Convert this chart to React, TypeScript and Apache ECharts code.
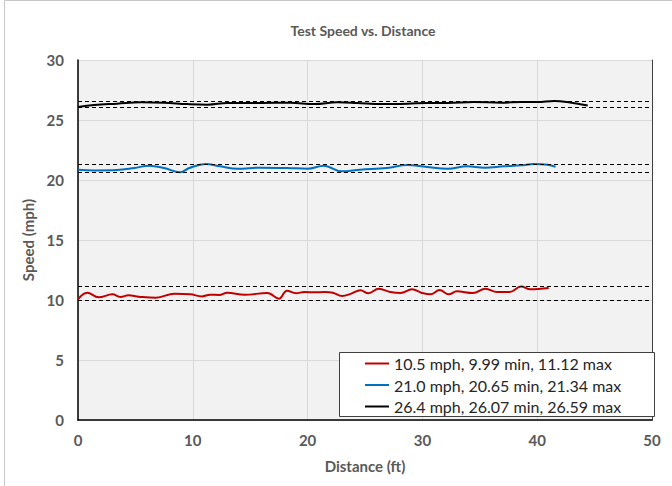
import React, { useEffect, useRef } from "react";
import * as echarts from "echarts";

const xTicks = [0, 10, 20, 30, 40, 50];
const yTicks = [0, 5, 10, 15, 20, 25, 30];

const seriesNames = [
  "10.5 mph, 9.99 min, 11.12 max",
  "21.0 mph, 20.65 min, 21.34 max",
  "26.4 mph, 26.07 min, 26.59 max",
];
const seriesColors = ["#c00000", "#0070c0", "#000000"];
const seriesMin = [9.99, 20.65, 26.07];
const seriesMax = [11.12, 21.34, 26.59];

const redDist = [0, 0.8, 1.8, 3.0, 3.7, 4.4, 5.3, 6.8, 8.4, 9.8, 10.8, 11.5, 12.3, 13.0, 14.5, 16.5, 17.5, 18.2, 19.0, 19.7, 20.6, 21.5, 22.2, 23.0, 23.8, 24.6, 25.3, 26.2, 27.2, 28.1, 29.1, 29.9, 30.7, 31.5, 32.3, 33.0, 34.4, 35.5, 36.5, 37.6, 38.6, 39.4, 41.0];
const redSpeed = [10.06, 10.61, 10.22, 10.47, 10.25, 10.39, 10.28, 10.19, 10.53, 10.47, 10.3, 10.44, 10.42, 10.61, 10.44, 10.58, 10.11, 10.78, 10.56, 10.67, 10.64, 10.67, 10.61, 10.33, 10.53, 10.81, 10.56, 10.94, 10.67, 10.58, 10.89, 10.61, 10.47, 10.83, 10.47, 10.72, 10.58, 10.94, 10.67, 10.67, 11.12, 10.89, 11.0];

const blueDist = [0, 1.4, 3.4, 4.9, 6.2, 7.5, 8.9, 9.7, 11.1, 12.4, 13.9, 15.9, 18.2, 20.0, 21.4, 23.0, 24.6, 26.9, 28.7, 30.4, 32.2, 33.9, 35.4, 37.1, 38.6, 39.7, 40.9, 41.6];
const blueSpeed = [20.86, 20.8, 20.83, 21.0, 21.19, 21.0, 20.65, 21.0, 21.34, 21.14, 20.94, 21.03, 21.0, 20.94, 21.19, 20.72, 20.86, 21.0, 21.25, 21.08, 20.94, 21.14, 21.03, 21.14, 21.22, 21.34, 21.28, 21.11];

const blackDist = [0, 1.4, 3.4, 5.5, 7.5, 9.5, 11.3, 13.0, 15.9, 18.5, 20.6, 22.6, 24.3, 26.4, 28.7, 30.4, 32.2, 34.5, 36.8, 38.6, 40.0, 41.5, 42.6, 44.4];
const blackSpeed = [26.08, 26.25, 26.36, 26.47, 26.44, 26.33, 26.28, 26.42, 26.42, 26.44, 26.33, 26.47, 26.42, 26.33, 26.36, 26.42, 26.42, 26.5, 26.44, 26.5, 26.5, 26.59, 26.5, 26.2];

const allDist = [redDist, blueDist, blackDist];
const allSpeed = [redSpeed, blueSpeed, blackSpeed];

const FONT = "Lato";
const GRAY = "#595959";

export default function App() {
  const ref = useRef<HTMLDivElement>(null);
  useEffect(() => {
    if (!ref.current) return;
    const chart = echarts.init(ref.current, undefined, { renderer: "svg" });
    const series = seriesNames.map((name, i) => ({
      name,
      type: "line",
      smooth: 0.4,
      symbol: "none",
      data: allDist[i].map((d, j) => [d, allSpeed[i][j]]),
      lineStyle: { color: seriesColors[i], width: 2 },
      itemStyle: { color: seriesColors[i] },
      z: 3,
      markLine: {
        silent: true,
        symbol: ["none", "none"],
        label: { show: false },
        lineStyle: { color: "#000", width: 1, type: [4, 3] },
        data: [{ yAxis: seriesMin[i] }, { yAxis: seriesMax[i] }],
      },
    }));
    chart.setOption({
      animation: false,
      textStyle: { fontFamily: FONT },
      title: {
        text: "Test Speed vs. Distance",
        left: 358,
        top: 18,
        textAlign: "center",
        textStyle: { fontFamily: FONT, fontSize: 14, fontWeight: "bold", color: GRAY },
      },
      graphic: [
        {
          type: "rect",
          shape: { x: 4.5, y: 0.5, width: 700, height: 520 },
          style: { fill: "none", stroke: "#c8c8c8", lineWidth: 1 },
          silent: true,
          z: 0,
        },
        {
          type: "rect",
          shape: { x: 339.5, y: 352.5, width: 315, height: 64 },
          style: { fill: "#ffffff", stroke: "#404040", lineWidth: 1 },
          silent: true,
          z: 10,
        },
      ],
      grid: {
        left: 78,
        right: 20,
        top: 60,
        bottom: 66,
        show: true,
        backgroundColor: "#f2f2f2",
        borderWidth: 0,
      },
      legend: {
        orient: "vertical",
        left: 365,
        top: 355,
        icon: "rect",
        itemWidth: 24,
        itemHeight: 2,
        itemGap: 4.5,
        padding: 0,
        z: 11,
        data: seriesNames,
        textStyle: { fontFamily: FONT, fontSize: 16, color: "#262626", lineHeight: 17 },
      },
      xAxis: {
        type: "value",
        min: xTicks[0],
        max: xTicks[xTicks.length - 1],
        interval: xTicks[1] - xTicks[0],
        name: "Distance (ft)",
        nameLocation: "middle",
        nameGap: 38,
        nameTextStyle: { fontFamily: FONT, fontSize: 15, fontWeight: "bold", color: GRAY },
        axisLine: { show: true, lineStyle: { color: "#000", width: 1.5 } },
        axisTick: { show: false },
        axisLabel: { fontFamily: FONT, fontSize: 15, fontWeight: "bold", color: GRAY, margin: 12 },
        splitLine: { show: true, lineStyle: { color: "#d9d9d9", width: 1 } },
      },
      yAxis: [
        {
          type: "value",
          min: yTicks[0],
          max: yTicks[yTicks.length - 1],
          interval: yTicks[1] - yTicks[0],
          name: "Speed (mph)",
          nameLocation: "middle",
          nameGap: 38,
          nameTextStyle: { fontFamily: FONT, fontSize: 15, fontWeight: "bold", color: GRAY },
          axisLine: { show: true, lineStyle: { color: "#000", width: 1.5 } },
          axisTick: { show: false },
          axisLabel: { fontFamily: FONT, fontSize: 15, fontWeight: "bold", color: GRAY, margin: 14 },
          splitLine: { show: true, lineStyle: { color: "#d9d9d9", width: 1 } },
        },
        {
          type: "value",
          position: "right",
          min: yTicks[0],
          max: yTicks[yTicks.length - 1],
          interval: yTicks[1] - yTicks[0],
          axisLine: { show: true, lineStyle: { color: "#404040", width: 1 } },
          axisTick: { show: false },
          axisLabel: { show: false },
          splitLine: { show: false },
        },
      ],
      series,
    });
    return () => chart.dispose();
  }, []);
  return (
    <div
      ref={ref}
      style={{ position: "fixed", left: 0, top: 0, width: 672, height: 486, background: "#ffffff" }}
    />
  );
}
